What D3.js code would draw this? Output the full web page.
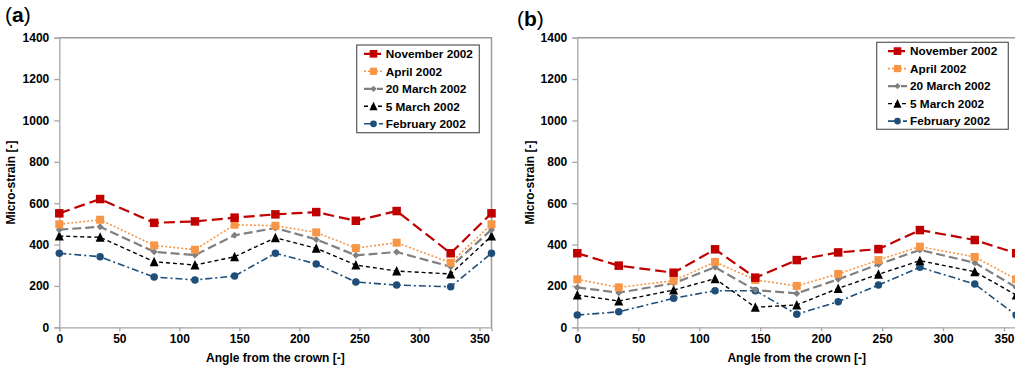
<!DOCTYPE html>
<html>
<head>
<meta charset="utf-8">
<script src="https://cdn.jsdelivr.net/npm/d3@7"></script>
<style>
  html, body { margin: 0; padding: 0; background: #fff; }
  svg { display: block; font-family: "Liberation Sans", Arial, sans-serif; }
</style>
</head>
<body>
<svg id="chart" width="1015" height="368"></svg>
<script>
// Gauge positions around the ring (degrees from the crown)
const angles = [0, 34, 79, 113, 146, 180, 214, 247, 281, 326, 360];

const seriesNames = ["November 2002", "April 2002", "20 March 2002", "5 March 2002", "February 2002"];
const yTicks = [0, 200, 400, 600, 800, 1000, 1200, 1400];
const xTicks = [0, 50, 100, 150, 200, 250, 300, 350];

// Panel (a) micro-strain readings
const aNovember = [551, 620, 505, 512, 530, 546, 557, 515, 562, 358, 551];
const aApril    = [498, 520, 396, 375, 496, 491, 459, 383, 409, 312, 498];
const a20March  = [472, 486, 365, 349, 445, 480, 425, 348, 364, 293, 472];
const a5March   = [441, 435, 317, 301, 341, 433, 382, 301, 272, 258, 441];
const aFebruary = [358, 341, 243, 229, 248, 358, 306, 219, 204, 196, 358];

// Panel (b) micro-strain readings
const bNovember = [358, 298, 264, 377, 240, 325, 362, 378, 470, 422, 358];
const bApril    = [232, 193, 225, 316, 229, 200, 258, 325, 390, 340, 232];
const b20March  = [193, 167, 213, 290, 180, 164, 232, 304, 374, 312, 193];
const b5March   = [156, 127, 180, 235, 97, 108, 188, 256, 322, 269, 156];
const bFebruary = [59, 75, 140, 177, 177, 63, 124, 204, 290, 209, 59];

// Line and marker styling per series
const styles = [
  { color: "#C00000", width: 2.2, dash: "11,5",     marker: "square",   size: 8.5 },
  { color: "#F79646", width: 1.6, dash: "2,2",      marker: "square",   size: 8 },
  { color: "#808080", width: 2.2, dash: "9,4",      marker: "diamond",  size: 7 },
  { color: "#000000", width: 1.4, dash: "4,3",      marker: "triangle", size: 9 },
  { color: "#1F4E79", width: 1.6, dash: "7,3,2,3",  marker: "circle",   size: 7.5 }
];

const svg = d3.select("#chart");

function markerPath(type, s) {
  const h = s / 2;
  if (type === "square") return `M${-h},${-h}H${h}V${h}H${-h}Z`;
  if (type === "diamond") return `M0,${-h}L${h},0L0,${h}L${-h},0Z`;
  if (type === "triangle") return `M0,${-h - 0.5}L${h},${h}L${-h},${h}Z`;
  return null;
}

function drawMarker(g, type, s, color, x, y) {
  if (type === "circle") {
    g.append("circle").attr("cx", x).attr("cy", y).attr("r", s / 2).attr("fill", color);
  } else {
    g.append("path").attr("d", markerPath(type, s))
      .attr("transform", `translate(${x},${y})`).attr("fill", color);
  }
}

function drawPanel(cfg) {
  const x = d3.scaleLinear().domain([0, 360]).range([cfg.x0, cfg.x1]);
  const y = d3.scaleLinear().domain([0, 1400]).range([327.3, 37.7]);
  const g = svg.append("g");

  // plot frame (top and right)
  g.append("path")
    .attr("d", `M${cfg.x0},${y(1400)}H${cfg.x1}V${y(0)}`)
    .attr("fill", "none").attr("stroke", "#9a9a9a").attr("stroke-width", 1.5);

  // y axis
  const yAxis = g.append("g").attr("transform", `translate(${cfg.x0},0)`)
    .call(d3.axisLeft(y).tickValues(yTicks).tickSize(5).tickPadding(5).tickFormat(d3.format("d")));
  // x axis
  const xAxis = g.append("g").attr("transform", `translate(0,${y(0)})`)
    .call(d3.axisBottom(x).tickValues(xTicks).tickSize(4).tickPadding(3).tickFormat(d3.format("d")));
  [yAxis, xAxis].forEach(a => {
    a.select(".domain").attr("stroke", "#a6a6a6").attr("stroke-width", 1.3);
    a.selectAll(".tick line").attr("stroke", "#a6a6a6").attr("stroke-width", 1.3);
    a.selectAll(".tick text").attr("fill", "#000").attr("font-size", 12)
      .attr("font-weight", "bold").attr("font-family", "Liberation Sans, Arial, sans-serif");
  });

  // axis titles
  g.append("text").attr("x", (cfg.x0 + cfg.x1) / 2).attr("y", 361.5)
    .attr("text-anchor", "middle").attr("font-size", 12).attr("font-weight", "bold")
    .text("Angle from the crown [-]");
  g.append("text")
    .attr("transform", `translate(${cfg.yTitleX},${(y(0) + y(1400)) / 2}) rotate(-90)`)
    .attr("text-anchor", "middle").attr("font-size", 12).attr("font-weight", "bold")
    .text("Micro-strain [-]");

  // panel label
  const lab = g.append("text").attr("x", cfg.labelX).attr("y", cfg.labelY).attr("font-size", 21);
  lab.append("tspan").text("(");
  lab.append("tspan").attr("font-weight", "bold").text(cfg.label);
  lab.append("tspan").text(")");

  // series, drawn bottom-up so November sits on top
  const line = d3.line().x((d, i) => x(angles[i])).y(d => y(d));
  for (let k = cfg.series.length - 1; k >= 0; k--) {
    const vals = cfg.series[k];
    const st = styles[k];
    g.append("path").datum(vals).attr("d", line)
      .attr("fill", "none").attr("stroke", st.color).attr("stroke-width", st.width)
      .attr("stroke-dasharray", st.dash);
    vals.forEach((v, i) => drawMarker(g, st.marker, st.size, st.color, x(angles[i]), y(v)));
  }

  // legend
  const L = cfg.legend;
  g.append("rect").attr("x", L.x).attr("y", L.y).attr("width", L.w).attr("height", L.h)
    .attr("fill", "#fff").attr("stroke", "#595959").attr("stroke-width", 1.2);
  seriesNames.forEach((name, k) => {
    const st = styles[k];
    const cy = L.y + 8.8 + k * 17.5;
    const lx0 = L.x + L.lineStart, lx1 = L.x + L.lineStart + 19;
    g.append("line").attr("x1", lx0).attr("x2", lx1).attr("y1", cy).attr("y2", cy)
      .attr("stroke", st.color).attr("stroke-width", st.width)
      .attr("stroke-dasharray", k === 0 ? "6,2,1,2" : st.dash);
    drawMarker(g, st.marker, st.size * 0.9, st.color, (lx0 + lx1) / 2, cy);
    g.append("text").attr("x", L.x + L.textStart).attr("y", cy + 4.2)
      .attr("font-size", 11.8).attr("font-weight", "bold").attr("fill", "#000")
      .text(name);
  });
}

drawPanel({
  x0: 59.3, x1: 491.5, yTitleX: 15, label: "a", labelX: 5, labelY: 22,
  series: [aNovember, aApril, a20March, a5March, aFebruary],
  legend: { x: 356.7, y: 45, w: 122.6, h: 87.7, lineStart: 7.3, textStart: 29 }
});

drawPanel({
  x0: 577.3, x1: 1016.2, yTitleX: 534, label: "b", labelX: 517, labelY: 26,
  series: [bNovember, bApril, b20March, b5March, bFebruary],
  legend: { x: 876.7, y: 42.3, w: 131.6, h: 87, lineStart: 11.3, textStart: 33.3 }
});
</script>
</body>
</html>
